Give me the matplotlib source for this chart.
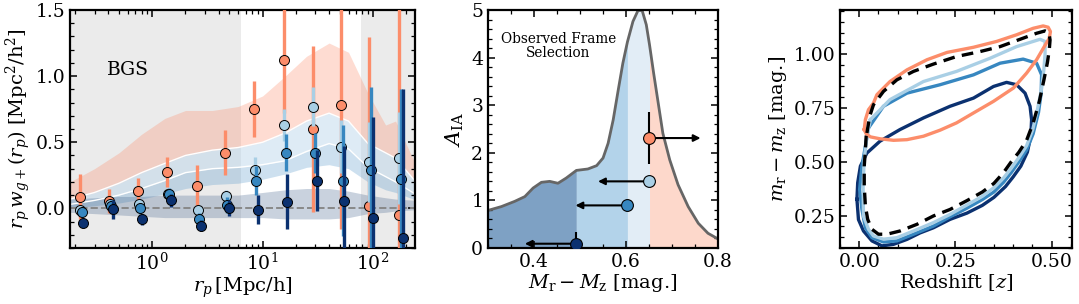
import numpy as np
import matplotlib.pyplot as plt
from matplotlib.ticker import MultipleLocator

plt.rcParams['font.family'] = 'serif'
plt.rcParams['font.serif'] = ['DejaVu Serif']
plt.rcParams['mathtext.fontset'] = 'dejavuserif'

# ---- panel 1: w_g+ measurements ----
rp = [0.22, 0.41, 0.75, 1.37, 2.57, 4.6, 8.4, 15.5, 28.5, 51.0, 92.0, 172.0]
wgp_red = [0.086, 0.053, 0.13, 0.275, 0.17, 0.42, 0.75, 1.12, 0.60, 0.785, 0.015, -0.05]
wgp_light = [-0.015, 0.035, 0.03, 0.105, -0.01, 0.095, 0.29, 0.63, 0.77, 0.465, 0.35, 0.38]
wgp_mid = [-0.03, 0.02, 0.0, 0.105, -0.083, 0.023, 0.21, 0.42, 0.42, 0.21, 0.29, 0.225]
wgp_dark = [-0.11, -0.008, -0.083, 0.06, -0.13, 0.002, -0.01, 0.05, 0.21, 0.055, -0.07, -0.225]
err_red = [0.17, 0.09, 0.10, 0.11, 0.16, 0.17, 0.21, 0.40, 0.63, 0.94, 1.28, 1.70]
err_light = [0.02, 0.02, 0.03, 0.03, 0.03, 0.04, 0.10, 0.12, 0.15, 0.20, 0.30, 0.35]
err_mid = [0.03, 0.04, 0.04, 0.05, 0.05, 0.06, 0.11, 0.14, 0.15, 0.42, 0.63, 0.68]
err_dark = [0.03, 0.07, 0.04, 0.05, 0.04, 0.06, 0.11, 0.21, 0.23, 0.42, 0.76, 1.13]

# model bands
rp_model = [0.18, 0.3, 0.5, 0.8, 1.3, 2, 3.5, 6, 10, 16, 25, 40, 60, 90, 130, 160, 250]
red_hi = [0.20, 0.30, 0.42, 0.56, 0.68, 0.74, 0.74, 0.77, 0.85, 1.00, 1.15, 1.25, 1.18, 0.87, 0.63, 0.66, 0.31]
red_lo = [0.07, 0.12, 0.19, 0.27, 0.34, 0.40, 0.44, 0.46, 0.50, 0.57, 0.66, 0.72, 0.66, 0.49, 0.42, 0.38, 0.19]
light_lo = [0.03, 0.06, 0.10, 0.15, 0.21, 0.27, 0.30, 0.31, 0.33, 0.36, 0.43, 0.49, 0.45, 0.31, 0.24, 0.20, 0.10]
mid_lo = [0.00, 0.02, 0.04, 0.07, 0.11, 0.15, 0.18, 0.19, 0.22, 0.26, 0.31, 0.33, 0.30, 0.20, 0.14, 0.12, 0.06]
dark_hi = [0.07, 0.08, 0.09, 0.09, 0.10, 0.10, 0.10, 0.10, 0.12, 0.14, 0.15, 0.15, 0.13, 0.10, 0.08, 0.07, 0.06]
dark_lo = [-0.03, -0.04, -0.05, -0.06, -0.07, -0.07, -0.07, -0.07, -0.07, -0.08, -0.08, -0.08, -0.07, -0.04, -0.03, -0.02, -0.01]

# ---- panel 2: A_IA vs colour ----
col_grid = [0.300, 0.329, 0.358, 0.380, 0.398, 0.416, 0.434, 0.452, 0.470, 0.492, 0.517, 0.536,
            0.550, 0.561, 0.572, 0.583, 0.593, 0.603, 0.615, 0.626, 0.635, 0.644, 0.651, 0.660,
            0.670, 0.680, 0.695, 0.713, 0.735, 0.757, 0.778, 0.800]
col_dist = [0.79, 0.87, 0.98, 1.08, 1.26, 1.38, 1.40, 1.36, 1.47, 1.63, 1.66, 1.73,
            1.89, 2.20, 2.69, 3.32, 3.88, 4.33, 4.76, 4.99, 4.99, 4.69, 4.27, 3.67,
            3.04, 2.41, 1.85, 1.33, 0.87, 0.52, 0.31, 0.19]
col_cuts = [0.300, 0.492, 0.603, 0.651, 0.800]
aia_x = [0.650, 0.650, 0.601, 0.492]
aia_y = [2.31, 1.40, 0.895, 0.09]
aia_err = [0.55, 0.05, 0.08, 0.25]
aia_arrow_to = [0.762, 0.539, 0.490, 0.380]

# ---- panel 3: colour-redshift contours ----
red_z = [0.013, 0.016, 0.024, 0.037, 0.046, 0.080, 0.124, 0.176, 0.228, 0.297, 0.357, 0.409,
         0.452, 0.478, 0.491, 0.497, 0.494, 0.480, 0.461, 0.435, 0.401, 0.349, 0.297, 0.253,
         0.210, 0.167, 0.124, 0.089, 0.054, 0.029, 0.018, 0.013]
red_c = [0.650, 0.696, 0.742, 0.773, 0.812, 0.873, 0.927, 0.974, 1.008, 1.032, 1.059, 1.090,
         1.120, 1.131, 1.125, 1.105, 1.074, 1.032, 0.974, 0.912, 0.843, 0.781, 0.727, 0.681,
         0.647, 0.619, 0.603, 0.600, 0.607, 0.616, 0.630, 0.650]
light_z = [0.029, 0.080, 0.167, 0.253, 0.340, 0.409, 0.470, 0.483, 0.483, 0.480, 0.474, 0.464,
           0.451, 0.435, 0.415, 0.395, 0.375, 0.350, 0.320, 0.280, 0.236, 0.193, 0.141, 0.098,
           0.063, 0.037, 0.024, 0.011, 0.010, 0.013, 0.020, 0.029]
light_c = [0.696, 0.789, 0.873, 0.920, 0.981, 1.035, 1.069, 1.059, 1.000, 0.930, 0.840, 0.750,
           0.650, 0.575, 0.520, 0.470, 0.425, 0.380, 0.340, 0.300, 0.256, 0.218, 0.179, 0.148,
           0.141, 0.156, 0.187, 0.248, 0.387, 0.511, 0.619, 0.696]
mid_z = [0.024, 0.063, 0.124, 0.210, 0.297, 0.366, 0.426, 0.461, 0.474, 0.473, 0.466, 0.452,
         0.435, 0.415, 0.395, 0.375, 0.350, 0.320, 0.280, 0.236, 0.193, 0.141, 0.098, 0.063,
         0.033, 0.016, 0.007, 0.001, 0.007, 0.016, 0.024]
mid_c = [0.657, 0.758, 0.819, 0.858, 0.904, 0.958, 0.977, 0.958, 0.904, 0.820, 0.730, 0.630,
         0.555, 0.500, 0.450, 0.405, 0.360, 0.325, 0.285, 0.245, 0.202, 0.164, 0.133, 0.128,
         0.148, 0.194, 0.279, 0.372, 0.480, 0.573, 0.657]
dark_z = [-0.006, -0.004, 0.003, 0.020, 0.054, 0.106, 0.167, 0.236, 0.297, 0.349, 0.383, 0.409,
          0.431, 0.444, 0.448, 0.446, 0.437, 0.420, 0.400, 0.380, 0.350, 0.320, 0.280, 0.236,
          0.193, 0.158, 0.124, 0.089, 0.059, 0.033, 0.011, -0.002, -0.006]
dark_c = [0.326, 0.403, 0.480, 0.541, 0.596, 0.650, 0.704, 0.758, 0.796, 0.850, 0.869, 0.858,
          0.819, 0.758, 0.696, 0.620, 0.545, 0.480, 0.430, 0.385, 0.335, 0.298, 0.262, 0.233,
          0.194, 0.170, 0.140, 0.117, 0.110, 0.133, 0.179, 0.232, 0.326]
all_z = [0.020, 0.027, 0.037, 0.063, 0.098, 0.141, 0.193, 0.253, 0.314, 0.366, 0.418, 0.461,
         0.483, 0.493, 0.496, 0.494, 0.489, 0.480, 0.468, 0.452, 0.435, 0.415, 0.395, 0.375,
         0.350, 0.320, 0.280, 0.236, 0.193, 0.150, 0.106, 0.072, 0.050, 0.033, 0.022, 0.016,
         0.013, 0.013, 0.016, 0.018, 0.020]
all_c = [0.634, 0.711, 0.765, 0.827, 0.881, 0.920, 0.954, 0.989, 1.012, 1.035, 1.069, 1.097,
         1.108, 1.100, 1.066, 1.020, 0.960, 0.880, 0.780, 0.680, 0.600, 0.545, 0.500, 0.450,
         0.400, 0.360, 0.320, 0.279, 0.249, 0.210, 0.179, 0.164, 0.164, 0.187, 0.233, 0.295,
         0.387, 0.480, 0.557, 0.619, 0.634]

c_red, c_light, c_mid, c_dark = '#fc8d6a', '#a9cfe5', '#3787c0', '#0b3170'

fig = plt.figure(figsize=(10.79, 3.04), dpi=100)
ax1 = fig.add_axes([0.0649, 0.1842, 0.3197, 0.7829])
ax2 = fig.add_axes([0.4523, 0.1842, 0.2132, 0.7829])
ax3 = fig.add_axes([0.7785, 0.1842, 0.2150, 0.7829])

for ax in (ax1, ax2, ax3):
    ax.tick_params(which='both', direction='in', top=True, right=True, labelsize=13.5)
    ax.tick_params(which='major', length=5, width=1.1)
    ax.tick_params(which='minor', length=3, width=0.9)
    for s in ax.spines.values():
        s.set_linewidth(1.6)

# panel 1
ax1.set_xscale('log')
ax1.set_xlim(0.18, 240)
ax1.set_ylim(-0.3, 1.5)
ax1.axvspan(0.18, 6.4, color='#ebebeb', zorder=0, lw=0)
ax1.axvspan(78, 240, color='#ebebeb', zorder=0, lw=0)
ax1.fill_between(rp_model, red_lo, red_hi, color=c_red, alpha=0.3, lw=0, zorder=1)
ax1.fill_between(rp_model, light_lo, red_lo, color='#b7d3ea', alpha=0.45, lw=0, zorder=1)
ax1.fill_between(rp_model, mid_lo, light_lo, color='#5a9bcc', alpha=0.3, lw=0, zorder=1)
ax1.fill_between(rp_model, dark_lo, dark_hi, color='#3f5f8a', alpha=0.28, lw=0, zorder=1)
ax1.plot(rp_model, red_lo, color='white', lw=1.0, zorder=1.5)
ax1.plot(rp_model, light_lo, color='white', lw=1.0, zorder=1.5)
ax1.axhline(0, color='#888888', ls='--', lw=1.4, zorder=2)

shifts = [1.0, 1.01, 1.04, 1.08]
samples = [(wgp_red, err_red, c_red), (wgp_light, err_light, c_light),
           (wgp_mid, err_mid, c_mid), (wgp_dark, err_dark, c_dark)]
for k, (w, e, c) in enumerate(samples):
    xs = np.array(rp) * shifts[k]
    ax1.errorbar(xs, w, yerr=e, fmt='o', color=c, mec='k', mew=0.7, ms=7.2,
                 elinewidth=2.4, capsize=0, zorder=3 + k)
ax1.text(0.6, 1.05, 'BGS', fontsize=13.5, ha='center', va='center')
ax1.yaxis.set_major_locator(MultipleLocator(0.5))
ax1.yaxis.set_minor_locator(MultipleLocator(0.1))
ax1.set_xlabel(r'$r_p\,$[Mpc/h]', fontsize=14, labelpad=1)
ax1.set_ylabel(r'$r_p\,w_{g+}(r_p)$ [Mpc$^2$/h$^2$]', fontsize=14, labelpad=2)

# panel 2
grid = np.array(col_grid)
dist = np.array(col_dist)
fills = ['#7ea1c4', '#b3d3ea', '#e2edf6', '#fdd8cb']
for i, fc in enumerate(fills):
    m = (grid >= col_cuts[i]) & (grid <= col_cuts[i + 1])
    ax2.fill_between(grid[m], 0, dist[m], color=fc, lw=0, zorder=1)
ax2.plot(grid, dist, color='#666666', lw=2, zorder=2, solid_joinstyle='round')
ax2.set_xlim(0.3, 0.8)
ax2.set_ylim(0, 5)
pt_cols = [c_red, c_light, c_mid, c_dark]
for x, y, e, xe, c in zip(aia_x, aia_y, aia_err, aia_arrow_to, pt_cols):
    ax2.annotate('', xy=(xe, y), xytext=(x, y),
                 arrowprops=dict(arrowstyle='-|>', color='k', lw=1.5,
                                 mutation_scale=10, shrinkA=0, shrinkB=0), zorder=3)
    ax2.errorbar(x, y, yerr=e, fmt='o', color=c, mec='k', mew=0.8, ms=8.5,
                 ecolor='k', elinewidth=1.5, capsize=0, zorder=4)
ax2.text(0.453, 4.24, 'Observed Frame\nSelection', fontsize=9.8, ha='center', va='center',
         linespacing=1.05)
ax2.xaxis.set_major_locator(MultipleLocator(0.2))
ax2.xaxis.set_minor_locator(MultipleLocator(0.05))
ax2.yaxis.set_major_locator(MultipleLocator(1))
ax2.yaxis.set_minor_locator(MultipleLocator(0.2))
ax2.set_xlabel(r'$M_{\rm r} - M_{\rm z}$ [mag.]', fontsize=14, labelpad=1)
ax2.set_ylabel(r'$A_{\rm IA}$', fontsize=15, labelpad=4)

# panel 3
for zz, cc, col in [(dark_z, dark_c, c_dark), (mid_z, mid_c, c_mid),
                    (light_z, light_c, c_light), (red_z, red_c, c_red)]:
    ax3.plot(zz, cc, color=col, lw=2.4, solid_joinstyle='round')
ax3.plot(all_z, all_c, color='k', lw=2.4, ls='--', dashes=(3.5, 2.2))
ax3.set_xlim(-0.05, 0.553)
ax3.set_ylim(0.1, 1.205)
ax3.xaxis.set_major_locator(MultipleLocator(0.25))
ax3.xaxis.set_minor_locator(MultipleLocator(0.05))
ax3.yaxis.set_major_locator(MultipleLocator(0.25))
ax3.yaxis.set_minor_locator(MultipleLocator(0.05))
ax3.xaxis.set_major_formatter(plt.FormatStrFormatter('%.2f'))
ax3.yaxis.set_major_formatter(plt.FormatStrFormatter('%.2f'))
ax3.set_xlabel(r'Redshift [$z$]', fontsize=14, labelpad=1)
ax3.set_ylabel(r'$m_{\rm r} - m_{\rm z}$ [mag.]', fontsize=14, labelpad=3)

fig.savefig('out.png', dpi=100)
